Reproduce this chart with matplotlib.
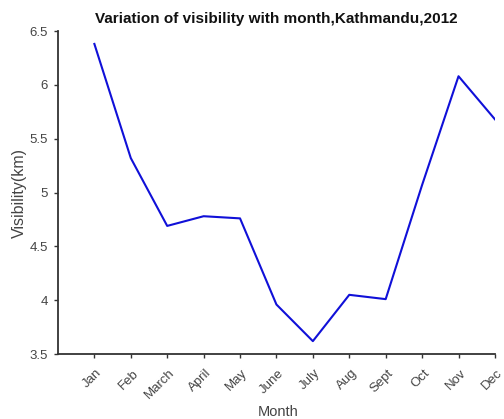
import matplotlib
matplotlib.use("Agg")
import matplotlib.pyplot as plt
from matplotlib.transforms import ScaledTranslation, blended_transform_factory

plt.rcParams['font.family'] = ['Liberation Sans', 'DejaVu Sans']

months = ["Jan", "Feb", "March", "April", "May", "June", "July",
          "Aug", "Sept", "Oct", "Nov", "Dec"]
visibility = [6.38, 5.32, 4.69, 4.78, 4.76, 3.96, 3.62, 4.05, 4.01, 5.07, 6.08, 5.68]
y_ticks = [3.5, 4, 4.5, 5, 5.5, 6, 6.5]
y_tick_labels = ["3.5", "4", "4.5", "5", "5.5", "6", "6.5"]

fig = plt.figure(figsize=(5.04, 4.19), dpi=100)
ax = fig.add_axes([0.115, 0.155, 0.867, 0.771])

x = list(range(1, len(months) + 1))
ax.plot(x, visibility, color="#1010d8", linewidth=1.5)

ax.set_xlim(0, 12)
ax.set_ylim(3.5, 6.5)
ax.set_xticks(x)
ax.set_xticklabels([""] * len(months))
ax.set_yticks(y_ticks)
ax.set_yticklabels(y_tick_labels)

# slanted month labels: right edge just past each tick, hanging below the axis
base = blended_transform_factory(ax.transData, ax.transAxes)
offset = ScaledTranslation(10 / 100, -13 / 100, fig.dpi_scale_trans)
for xi, name in zip(x, months):
    ax.text(xi, 0, name, transform=base + offset, rotation=45,
            ha="right", va="top", fontsize=9.5, color="#444444",
            clip_on=False)

for side in ("top", "right"):
    ax.spines[side].set_visible(False)
for side in ("left", "bottom"):
    ax.spines[side].set_linewidth(1.3)
    ax.spines[side].set_color("#333333")

ax.tick_params(axis="both", direction="out", length=3, width=1,
               colors="#333333", labelsize=9.5, labelcolor="#444444")
ax.tick_params(axis="y", pad=4)

fig.text(278 / 504, 1 - 412 / 419, "Month", fontsize=10.5, color="#444444",
         ha="center", va="center")
ax.set_ylabel("Visibility(km)", fontsize=11.5, color="#444444", labelpad=2)
ax.set_title("Variation of visibility with month,Kathmandu,2012",
             fontsize=11, fontweight="bold", color="#111111", pad=6)

fig.savefig("out.png", dpi=100)
